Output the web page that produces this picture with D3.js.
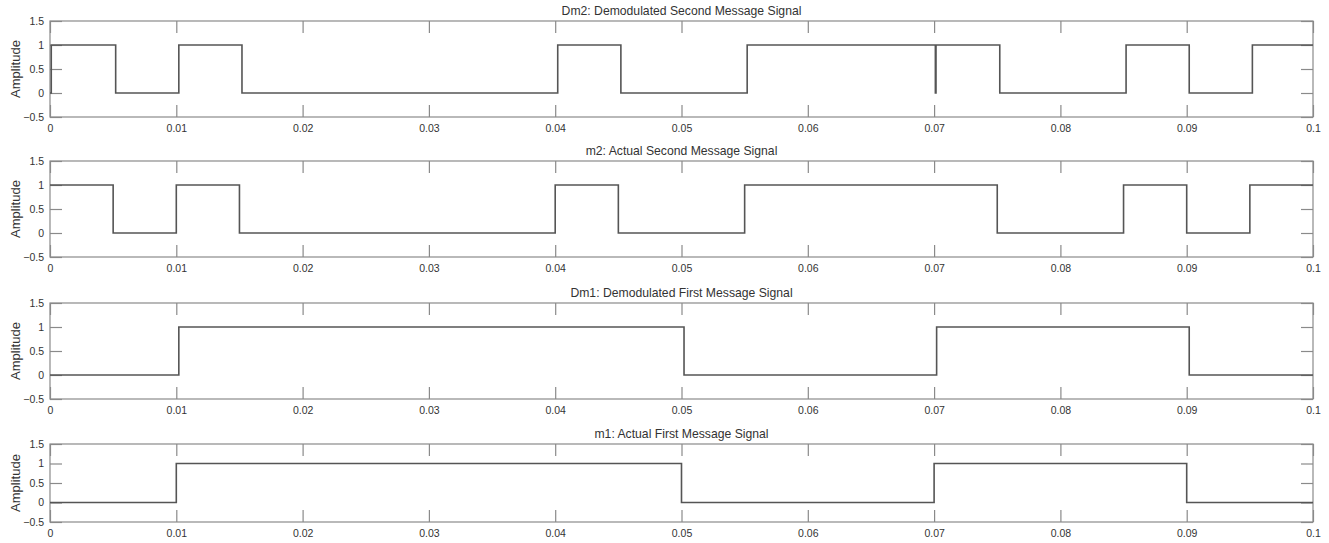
<!DOCTYPE html>
<html>
<head>
<meta charset="utf-8">
<script src="https://cdn.jsdelivr.net/npm/d3@7"></script>
<style>
  html, body { margin: 0; padding: 0; background: #fff; }
  svg { display: block; }
  text { font-family: "Liberation Sans", Arial, sans-serif; fill: #333; }
</style>
</head>
<body>
<svg id="chart" width="1329" height="543"></svg>
<script>
// Step signals: value[i] holds from time[i] until time[i+1]
const dm2Time  = [0, 0.0001, 0.0052, 0.0102, 0.0152, 0.0402, 0.0452, 0.0552, 0.0701, 0.07015, 0.0752, 0.0852, 0.0902, 0.0952, 0.1];
const dm2Value = [0, 1,      0,      1,      0,      1,      0,      1,      0,      1,       0,      1,      0,      1,      1];

const m2Time  = [0, 0.005, 0.01, 0.015, 0.04, 0.045, 0.055, 0.075, 0.085, 0.09, 0.095, 0.1];
const m2Value = [1, 0,     1,    0,     1,    0,     1,     0,     1,     0,    1,     1];

const dm1Time  = [0, 0.0102, 0.0502, 0.0702, 0.0902, 0.1];
const dm1Value = [0, 1,      0,       1,      0,      0];

const m1Time  = [0, 0.01, 0.05, 0.07, 0.09, 0.1];
const m1Value = [0, 1,    0,    1,    0,    0];

const xTicks = [0, 0.01, 0.02, 0.03, 0.04, 0.05, 0.06, 0.07, 0.08, 0.09, 0.1];
const yTicks = [-0.5, 0, 0.5, 1, 1.5];

const panelTitles = [
  "Dm2: Demodulated Second Message Signal",
  "m2: Actual Second Message Signal",
  "Dm1: Demodulated First Message Signal",
  "m1: Actual First Message Signal"
];
const panelTimes  = [dm2Time, m2Time, dm1Time, m1Time];
const panelValues = [dm2Value, m2Value, dm1Value, m1Value];

// subplot boxes (pixel frames)
const frames = [
  { top: 21,  bottom: 117 },
  { top: 161, bottom: 257 },
  { top: 303, bottom: 399 },
  { top: 444, bottom: 522 }
];
const left = 50, right = 1313;
const axisColor = "#8a8a8a";
const lineColor = "#555";
const tickLen = 12;

const svg = d3.select("#chart");
const x = d3.scaleLinear().domain([0, 0.1]).range([left, right]);
const fmt = d => (d === 0 ? "0" : d3.format("~g")(d));

frames.forEach((f, i) => {
  const y = d3.scaleLinear().domain([-0.5, 1.5]).range([f.bottom, f.top]);
  const g = svg.append("g");

  // box
  g.append("rect")
    .attr("x", left).attr("y", f.top)
    .attr("width", right - left).attr("height", f.bottom - f.top)
    .attr("fill", "none").attr("stroke", axisColor).attr("stroke-width", 1.2);

  // bottom axis with labels, inward ticks
  const xb = g.append("g").attr("transform", `translate(0,${f.bottom})`)
    .call(d3.axisBottom(x).tickValues(xTicks).tickFormat(fmt).tickSizeInner(-tickLen).tickSizeOuter(0).tickPadding(6));
  // top axis, ticks only
  const xt = g.append("g").attr("transform", `translate(0,${f.top})`)
    .call(d3.axisTop(x).tickValues(xTicks).tickFormat("").tickSizeInner(-tickLen).tickSizeOuter(0));
  // left axis with labels
  const yl = g.append("g").attr("transform", `translate(${left},0)`)
    .call(d3.axisLeft(y).tickValues(yTicks).tickFormat(fmt).tickSizeInner(-tickLen).tickSizeOuter(0).tickPadding(6));
  // right axis, ticks only
  const yr = g.append("g").attr("transform", `translate(${right},0)`)
    .call(d3.axisRight(y).tickValues(yTicks).tickFormat("").tickSizeInner(-tickLen).tickSizeOuter(0));

  [xb, xt, yl, yr].forEach(a => {
    a.select(".domain").remove();
    a.selectAll(".tick line").attr("stroke", axisColor).attr("stroke-width", 1.2);
    a.selectAll("text").attr("font-size", 10.5).attr("fill", "#444")
      .style("font-family", "'Liberation Sans', Arial, sans-serif");
  });
  xb.selectAll("text").attr("dy", "0.9em");

  // title
  g.append("text")
    .attr("x", (left + right) / 2).attr("y", f.top - 6)
    .attr("text-anchor", "middle").attr("font-size", 12.2)
    .text(panelTitles[i]);

  // y label
  g.append("text")
    .attr("transform", `translate(20,${(f.top + f.bottom) / 2}) rotate(-90)`)
    .attr("text-anchor", "middle").attr("font-size", 13)
    .text("Amplitude");

  // signal
  const data = panelTimes[i].map((t, k) => ({ t, v: panelValues[i][k] }));
  const line = d3.line().x(d => x(d.t)).y(d => y(d.v)).curve(d3.curveStepAfter);
  g.append("path")
    .datum(data)
    .attr("d", line)
    .attr("fill", "none")
    .attr("stroke", lineColor)
    .attr("stroke-width", 1.6);
});
</script>
</body>
</html>
